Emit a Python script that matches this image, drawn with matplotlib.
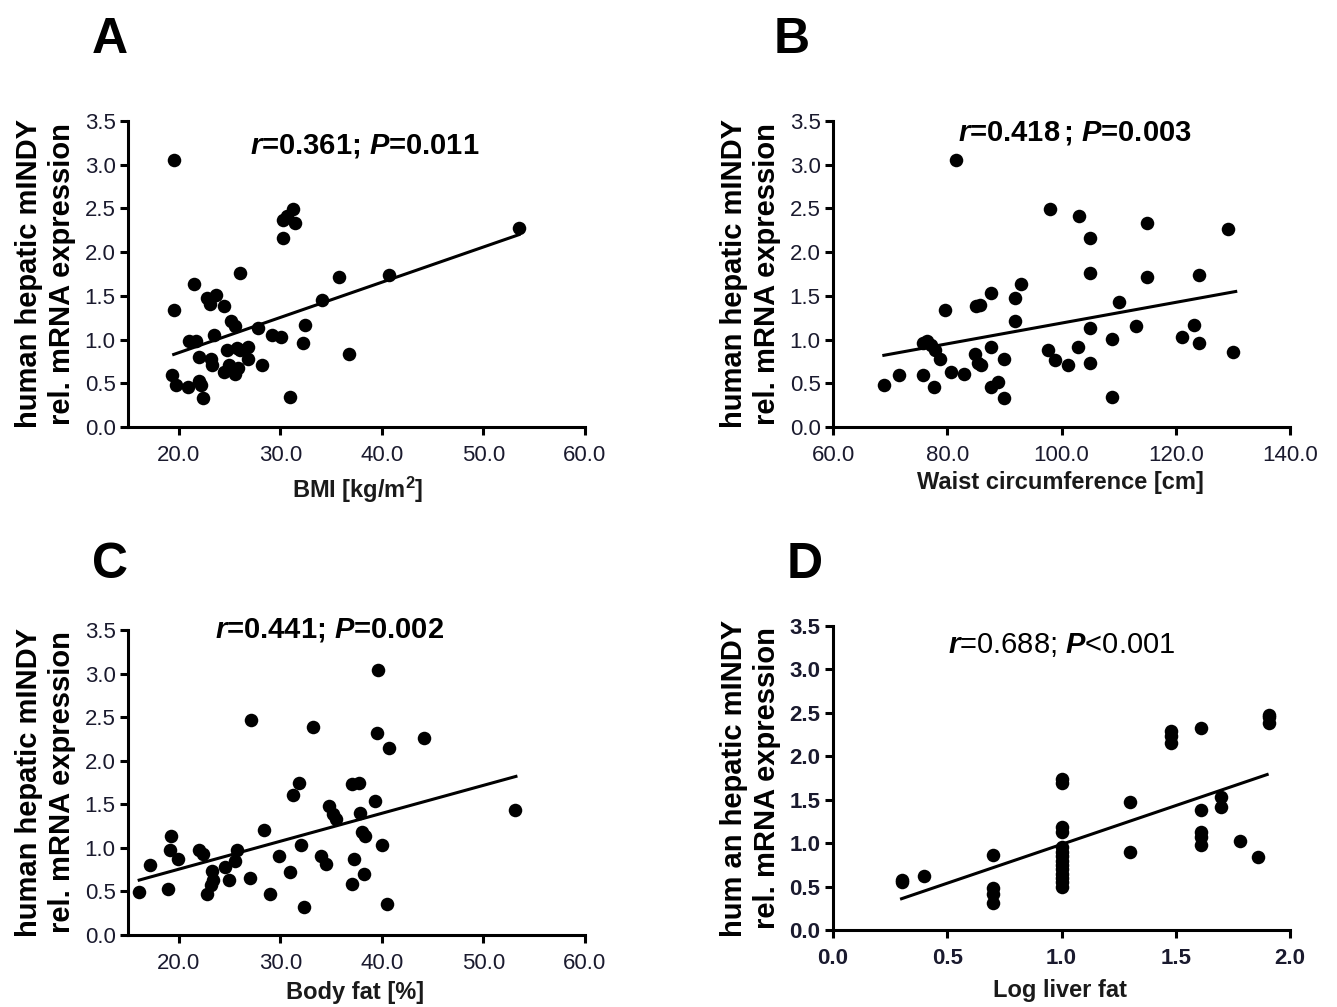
import matplotlib
matplotlib.use("Agg")
import matplotlib.pyplot as plt
import numpy as np

plt.rcParams['font.family'] = ['Liberation Sans', 'DejaVu Sans']
plt.rcParams['mathtext.fontset'] = 'custom'
plt.rcParams['mathtext.rm'] = 'Liberation Sans:bold'
plt.rcParams['mathtext.it'] = 'Liberation Sans:italic:bold'
plt.rcParams['mathtext.bf'] = 'Liberation Sans:bold'

# ---------------- data ----------------
bmi_x = [19.5, 19.5, 19.3, 19.7, 20.9, 21.5, 21.0, 21.7, 22.0, 22.2, 22.4, 22.0,
         22.8, 23.1, 23.7, 23.2, 23.3, 23.5, 24.5, 24.5, 24.9, 24.7, 25.1, 25.5,
         25.7, 25.8, 25.5, 26.0, 26.8, 26.8, 26.0, 27.8, 28.2, 29.2, 30.1, 30.3,
         30.3, 30.7, 31.2, 31.4, 31.0, 32.2, 32.4, 34.1, 35.8, 36.8, 40.7, 53.5]
bmi_y = [3.05, 1.34, 0.59, 0.48, 0.46, 1.63, 0.98, 0.98, 0.80, 0.48, 0.33, 0.53,
         1.47, 1.41, 1.51, 0.78, 0.71, 1.05, 1.38, 0.63, 0.71, 0.88, 1.21, 1.15,
         0.90, 0.67, 0.61, 1.76, 0.92, 0.78, 0.88, 1.13, 0.71, 1.05, 1.03, 2.16,
         2.37, 2.41, 2.49, 2.33, 0.34, 0.96, 1.17, 1.45, 1.72, 0.84, 1.74, 2.28]
bmi_fit_x = [19.5, 53.5]
bmi_fit_y = [0.83, 2.20]

waist_x = [81.6, 68.9, 71.6, 75.7, 77.7, 75.7, 76.4, 77.1, 77.9, 78.7, 79.6, 80.7,
           82.9, 85.0, 85.7, 84.9, 85.4, 85.9, 87.7, 87.7, 87.7, 88.9, 89.9, 89.9,
           91.8, 91.8, 92.9, 97.9, 97.7, 98.9, 101.1, 102.9, 103.0, 105.0, 105.0,
           105.0, 105.0, 108.9, 108.9, 110.0, 113.0, 115.0, 115.0, 121.1, 123.2,
           124.1, 124.1, 129.1, 130.1]
waist_y = [3.05, 0.48, 0.59, 0.59, 0.46, 0.96, 0.98, 0.94, 0.88, 0.78, 1.34, 0.63,
           0.61, 1.38, 1.40, 0.84, 0.73, 0.71, 1.53, 0.92, 0.46, 0.52, 0.33, 0.78,
           1.47, 1.21, 1.63, 2.49, 0.88, 0.77, 0.71, 0.92, 2.41, 2.16, 1.76,
           1.13, 0.73, 1.01, 0.34, 1.43, 1.15, 2.33, 1.72, 1.03, 1.17,
           1.74, 0.96, 2.26, 0.86]
waist_fit_x = [68.9, 130.5]
waist_fit_y = [0.82, 1.55]

fat_x = [16.1, 17.2, 18.9, 19.2, 19.1, 19.9, 22.0, 22.4, 22.8, 23.2, 23.3, 23.4,
         24.6, 24.9, 25.5, 25.7, 27.0, 27.1, 28.4, 29.0, 29.9, 31.0, 31.2, 31.8,
         32.0, 32.3, 33.2, 34.0, 34.5, 34.8, 35.2, 35.5, 37.1, 37.7, 37.3, 37.1,
         37.8, 38.0, 38.3, 38.2, 39.3, 39.5, 39.6, 40.0, 40.5, 40.7, 44.1, 53.1]
fat_y = [0.49, 0.80, 0.53, 1.14, 0.97, 0.87, 0.97, 0.93, 0.47, 0.57, 0.73, 0.63,
         0.78, 0.63, 0.85, 0.97, 0.65, 2.47, 1.20, 0.47, 0.91, 0.72, 1.61, 1.75,
         1.03, 0.32, 2.39, 0.91, 0.82, 1.48, 1.39, 1.33, 1.73, 1.75, 0.87, 0.59,
         1.40, 1.18, 1.14, 0.70, 1.54, 2.32, 3.04, 1.03, 0.36, 2.15, 2.26, 1.44]
fat_fit_x = [16.1, 53.2]
fat_fit_y = [0.63, 1.82]

liver_x = [0.30, 0.30, 0.40, 0.70, 0.70, 0.70, 0.70,
           1.00, 1.00, 1.00, 1.00, 1.00, 1.00, 1.00, 1.00, 1.00, 1.00, 1.00, 1.00,
           1.00, 1.00, 1.30, 1.30, 1.48, 1.48, 1.48, 1.61, 1.61, 1.61, 1.61, 1.61,
           1.70, 1.70, 1.78, 1.86, 1.91, 1.91, 1.91]
liver_y = [0.57, 0.55, 0.62, 0.86, 0.48, 0.42, 0.31,
           1.74, 1.69, 1.19, 1.13, 0.95, 0.90, 0.85, 0.80, 0.75, 0.70, 0.65, 0.60,
           0.55, 0.50, 0.90, 1.47, 2.29, 2.23, 2.15, 2.33, 1.38, 1.13, 1.07, 0.98,
           1.53, 1.42, 1.02, 0.84, 2.45, 2.38, 2.48]
liver_fit_x = [0.30, 1.90]
liver_fit_y = [0.36, 1.79]

y_ticks = [0.0, 0.5, 1.0, 1.5, 2.0, 2.5, 3.0, 3.5]

panels = [
    dict(letter='A', x=bmi_x, y=bmi_y, fx=bmi_fit_x, fy=bmi_fit_y,
         xlim=(15, 60), xticks=[20, 30, 40, 50, 60], xfmt='{:.1f}',
         xlabel='BMI [kg/m$^\\mathbf{2}$]', stat='$r$=0.361; $P$=0.011',
         ylab1='human hepatic mINDY', tickbold=False,
         rect=[128, 121, 585, 427], letterpos=(110, 40), statpos=(365, 146),
         xlabpos=(358, 490), statbold=True),
    dict(letter='B', x=waist_x, y=waist_y, fx=waist_fit_x, fy=waist_fit_y,
         xlim=(60, 140), xticks=[60, 80, 100, 120, 140], xfmt='{:.1f}',
         xlabel='Waist circumference [cm]', stat='$r$=0.418$\\,$; $P$=0.003',
         ylab1='human hepatic mINDY', tickbold=False,
         rect=[833, 121, 1290, 427], letterpos=(792, 40), statpos=(1075, 133),
         xlabpos=(1060, 483), statbold=True),
    dict(letter='C', x=fat_x, y=fat_y, fx=fat_fit_x, fy=fat_fit_y,
         xlim=(15, 60), xticks=[20, 30, 40, 50, 60], xfmt='{:.1f}',
         xlabel='Body fat [%]', stat='$r$=0.441; $P$=0.002',
         ylab1='human hepatic mINDY', tickbold=False,
         rect=[128, 630, 585, 935], letterpos=(110, 565), statpos=(330, 630),
         xlabpos=(355, 992), statbold=True),
    dict(letter='D', x=liver_x, y=liver_y, fx=liver_fit_x, fy=liver_fit_y,
         xlim=(0, 2), xticks=[0.0, 0.5, 1.0, 1.5, 2.0], xfmt='{:.1f}',
         xlabel='Log liver fat', stat='$r$=0.688; $P$<0.001',
         ylab1='hum an hepatic mINDY', tickbold=True,
         rect=[833, 626, 1290, 930], letterpos=(805, 565), statpos=(1062, 645),
         xlabpos=(1060, 990), statbold=False),
]

W, H = 1337, 1007
fig = plt.figure(figsize=(W / 100, H / 100), dpi=100)

def fx_(px):
    return px / W

def fy_(py):
    return 1 - py / H

for p in panels:
    l, t, r, b = p['rect']
    ax = fig.add_axes([fx_(l), fy_(b), (r - l) / W, (b - t) / H])
    ax.scatter(p['x'], p['y'], s=95, c='black', marker='o', linewidths=0,
               zorder=3, clip_on=False)
    ax.plot(p['fx'], p['fy'], color='black', lw=2.2, zorder=2)
    ax.set_xlim(*p['xlim'])
    ax.set_ylim(0, 3.5)
    ax.set_xticks(p['xticks'])
    ax.set_xticklabels([p['xfmt'].format(v) for v in p['xticks']])
    ax.set_yticks(y_ticks)
    ax.set_yticklabels(['{:.1f}'.format(v) for v in y_ticks])
    for s in ['top', 'right']:
        ax.spines[s].set_visible(False)
    for s in ['left', 'bottom']:
        ax.spines[s].set_linewidth(2.2)
        ax.spines[s].set_color('black')
    ax.tick_params(direction='out', length=6, width=2.2, colors='black',
                   labelsize=16, pad=3)
    ax.tick_params(axis='x', pad=7)
    for lab in ax.get_xticklabels() + ax.get_yticklabels():
        lab.set_color('#1a1a2e')
        if p['tickbold']:
            lab.set_fontweight('bold')
    # Letter
    fig.text(fx_(p['letterpos'][0]), fy_(p['letterpos'][1]), p['letter'],
             fontsize=36, fontweight='bold', ha='center', va='center')
    # Stat annotation
    fig.text(fx_(p['statpos'][0]), fy_(p['statpos'][1]), p['stat'],
             fontsize=21, fontweight='bold' if p['statbold'] else 'normal',
             ha='center', va='center')
    # x label
    fig.text(fx_(p['xlabpos'][0]), fy_(p['xlabpos'][1]), p['xlabel'],
             fontsize=17, fontweight='bold', ha='center', va='center',
             color='#1a1a1a')
    # y labels (two lines)
    cy = (t + b) / 2
    fig.text(fx_(l - 99), fy_(cy), p['ylab1'], rotation=90, fontsize=21,
             fontweight='bold', ha='center', va='center')
    fig.text(fx_(l - 66), fy_(cy), 'rel. mRNA expression', rotation=90,
             fontsize=21, fontweight='bold', ha='center', va='center')

fig.savefig('out.png', dpi=100)
